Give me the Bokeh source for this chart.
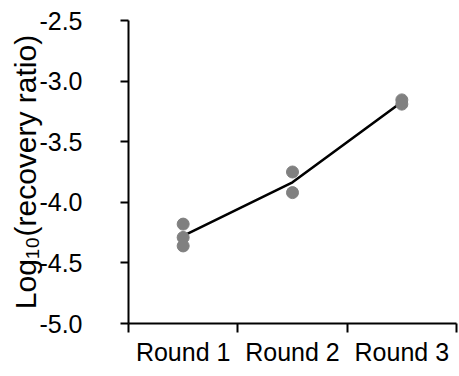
from bokeh.plotting import figure
from bokeh.models import FixedTicker, Range1d
from bokeh.embed import file_html
from bokeh.resources import INLINE

categories = ["Round 1", "Round 2", "Round 3"]
round1 = [-4.18, -4.29, -4.36]
round2 = [-3.75, -3.92]
round3 = [-3.155, -3.19]
y_ticks = [-5.0, -4.5, -4.0, -3.5, -3.0, -2.5]

groups = [round1, round2, round3]
centers = [i + 0.5 for i in range(len(categories))]
px, py = [], []
for c, g in zip(centers, groups):
    for v in g:
        px.append(c)
        py.append(v)
means = [sum(g) / len(g) for g in groups]

p = figure(width=459, height=376, output_backend="svg", toolbar_location=None,
           x_range=Range1d(0, len(categories)), y_range=Range1d(-5.0, -2.5),
           min_border_left=128, min_border_right=3, min_border_top=20, min_border_bottom=53)
p.outline_line_color = None
p.grid.visible = False
p.background_fill_color = "white"

p.line(centers, means, line_color="black", line_width=2.6)
p.scatter(px, py, size=12, fill_color="#808080", line_color="#808080")

font = "Liberation Sans"
xa = p.xaxis[0]
xa.ticker = FixedTicker(ticks=centers, minor_ticks=list(range(len(categories) + 1)))
xa.major_label_overrides = {c: lab for c, lab in zip(centers, categories)}
xa.major_tick_out = 0
xa.major_tick_in = 0
xa.minor_tick_out = 9
xa.minor_tick_in = 0
xa.minor_tick_line_width = 2
xa.minor_tick_line_color = "black"
xa.axis_line_width = 2
xa.axis_line_color = "black"
xa.major_label_text_font = font
xa.major_label_text_font_size = "25px"
xa.major_label_text_color = "black"
xa.major_label_standoff = 5

ya = p.yaxis[0]
ya.ticker = FixedTicker(ticks=y_ticks, minor_ticks=[])
ya.major_label_overrides = {t: f"{t:.1f}" for t in y_ticks}
ya.major_tick_out = 8
ya.major_tick_in = 0
ya.major_tick_line_width = 2
ya.major_tick_line_color = "black"
ya.axis_line_width = 2
ya.axis_line_color = "black"
ya.major_label_text_font = font
ya.major_label_text_font_size = "25px"
ya.major_label_text_color = "black"
ya.major_label_standoff = 38
ya.axis_label = "Log\u2081\u2080(recovery ratio)"
ya.axis_label_text_font = font
ya.axis_label_text_font_size = "30px"
ya.axis_label_text_font_style = "normal"
ya.axis_label_text_color = "black"
ya.axis_label_standoff = -6

open("out.html", "w").write(file_html(p, INLINE))
